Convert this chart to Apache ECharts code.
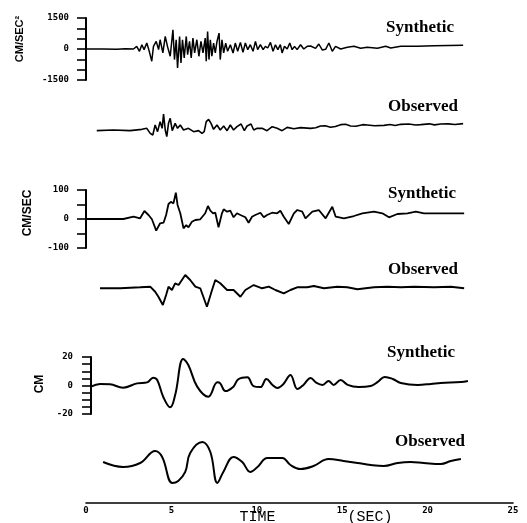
<!DOCTYPE html>
<html><head><meta charset="utf-8">
<script src="https://cdn.jsdelivr.net/npm/echarts@6/dist/echarts.min.js"></script>
<style>html,body{margin:0;padding:0;background:#fff}#c{width:527px;height:523px}</style>
</head><body><div id="c"></div>
<script>
// time (s), value pairs
const accSyn = [[0,0],[1.0,0],[1.8,-16],[2.3,16],[2.78,0],[2.97,128],[3.13,-112],[3.27,208],[3.40,-32],[3.56,288],[3.72,-160],[3.85,-592],[3.95,128],[4.11,368],[4.25,-32],[4.34,448],[4.50,-192],[4.64,608],[4.77,128],[4.93,-352],[5.09,928],[5.18,-512],[5.28,448],[5.36,-912],[5.48,608],[5.56,-672],[5.65,448],[5.75,-432],[5.87,608],[5.95,-272],[6.06,368],[6.16,-432],[6.26,528],[6.36,-192],[6.49,448],[6.61,-352],[6.73,368],[6.85,-192],[6.98,528],[7.04,-592],[7.12,848],[7.20,-512],[7.28,448],[7.37,-352],[7.47,288],[7.57,-192],[7.67,368],[7.79,768],[7.86,-512],[7.96,448],[8.06,-192],[8.18,288],[8.29,-112],[8.45,208],[8.61,-192],[8.74,288],[8.88,-112],[9.04,320],[9.19,-160],[9.33,288],[9.47,-32],[9.62,208],[9.78,-112],[9.92,368],[10.05,-32],[10.21,208],[10.37,-32],[10.50,128],[10.64,48],[10.80,320],[10.95,-112],[11.09,208],[11.23,-32],[11.38,208],[11.48,-192],[11.62,128],[11.78,0],[11.93,288],[12.07,-32],[12.21,128],[12.36,-32],[12.56,208],[12.75,0],[12.95,128],[13.15,145],[13.44,32],[13.63,242],[13.83,-48],[14.03,-16],[14.22,290],[14.42,-113],[14.61,129],[14.91,0],[15.30,80],[15.69,129],[16.08,32],[16.47,80],[17.06,32],[17.55,129],[17.84,48],[18.43,129],[19.41,129],[20.38,161],[22.08,177]];
const accObs = [[0.63,-80],[1.60,-48],[2.58,-80],[3.27,-16],[3.56,32],[3.76,-210],[3.91,-290],[4.05,194],[4.19,-129],[4.34,355],[4.46,32],[4.54,726],[4.64,-48],[4.73,-371],[4.83,274],[4.93,516],[5.05,-80],[5.22,274],[5.36,32],[5.52,194],[5.71,-48],[6.00,32],[6.30,-129],[6.59,-80],[6.79,-210],[6.92,-129],[7.04,355],[7.18,468],[7.32,274],[7.47,-16],[7.67,194],[7.86,-48],[8.06,145],[8.26,-80],[8.45,194],[8.64,-48],[8.84,113],[9.08,242],[9.27,-80],[9.43,145],[9.66,242],[9.82,-48],[10.02,32],[10.31,32],[10.60,-80],[10.90,113],[11.19,32],[11.48,-80],[11.78,80],[12.17,16],[12.56,65],[13.15,32],[13.45,60],[13.73,145],[14.0,160],[14.32,81],[14.6,120],[14.91,210],[15.2,230],[15.49,145],[15.8,130],[16.2,210],[16.47,194],[16.9,160],[17.45,177],[17.8,220],[18.1,170],[18.43,226],[18.9,240],[19.3,190],[19.60,210],[20.1,250],[20.4,200],[20.77,242],[21.2,250],[21.6,220],[22.08,258]];
const velSyn = [[0,0],[0.08,-1],[2.19,0],[2.78,7.9],[3.17,2.4],[3.42,27.6],[3.66,13.8],[3.86,-1],[4.11,-40],[4.34,-14.8],[4.54,-12.8],[4.69,13.8],[4.83,51.7],[4.97,59.3],[5.12,53.8],[5.26,90.7],[5.36,48.3],[5.52,19.7],[5.71,-32.1],[5.87,-20.7],[6.00,-28.6],[6.20,-9.3],[6.40,-3.4],[6.69,-1],[6.98,19.7],[7.14,44.8],[7.28,28.6],[7.44,19.7],[7.57,21.7],[7.76,-28.6],[7.96,19.7],[8.06,33.4],[8.26,25.2],[8.45,28.6],[8.64,5.9],[8.84,19.7],[9.04,13.8],[9.33,5.9],[9.52,-12.8],[9.72,7.9],[9.91,13.8],[10.21,21.7],[10.41,5.9],[10.60,13.8],[10.90,21.7],[11.19,19.7],[11.38,28.6],[11.58,7.9],[11.87,-17.2],[12.17,19.7],[12.37,31.0],[12.66,25.2],[12.85,2.4],[13.25,25.2],[13.63,31.0],[14.03,2.4],[14.42,42.4],[14.62,7.9],[15.10,2.4],[15.69,10.3],[16.18,19.7],[16.86,25.2],[17.35,19.7],[17.74,5.9],[18.23,17.2],[18.82,19.7],[19.31,25.2],[19.79,19.7],[20.97,19.7],[22.14,19.7]];
const velObs = [[0.82,-1],[2.00,-1],[3.17,2.4],[3.76,4.5],[4.05,-12.8],[4.24,-30],[4.50,-58.6],[4.69,-24.1],[4.83,4.5],[5.03,-6.9],[5.22,16.2],[5.42,10.3],[5.81,44.8],[6.10,27.6],[6.40,4.5],[6.69,-1],[7.08,-64.5],[7.38,-6.9],[7.57,27.6],[7.86,16.2],[8.26,-6.9],[8.64,-6.9],[9.04,-30],[9.33,-6.9],[9.82,10.3],[10.31,-1],[10.70,4.5],[11.09,-6.9],[11.58,-18.3],[11.97,-6.9],[12.36,2.4],[12.95,2.4],[13.34,6.9],[13.93,-1],[14.71,4.5],[15.30,2.4],[15.89,-4.5],[16.86,2.4],[17.65,4.5],[18.43,2.4],[19.21,4.5],[20.38,2.4],[21.36,4.5],[22.14,-1]];
const dispSyn = [[0.29,-0.8],[0.82,1.1],[1.41,0.8],[2.17,-1.5],[2.99,1.5],[3.58,2.2],[3.93,5.5],[4.17,3.9],[4.52,-7.9],[4.93,-15.3],[5.22,-6.7],[5.69,18.6],[5.99,14.4],[6.51,-0.8],[7.16,-7.9],[7.69,2.2],[7.86,1.5],[8.16,-3.9],[8.63,-0.8],[8.92,4.4],[9.45,5.8],[9.80,-0.4],[10.21,-1.1],[10.56,4.6],[10.92,0.4],[11.21,-1.8],[11.56,1.1],[11.97,7.4],[12.38,-2.5],[12.73,0.4],[13.15,5.3],[13.50,1.8],[13.85,0.4],[14.20,3.2],[14.50,0.4],[14.91,3.9],[15.32,0.4],[15.96,-1.1],[16.67,-0.4],[17.08,2.5],[17.49,6.0],[17.96,4.6],[18.43,1.8],[19.42,0.4],[20.19,1.1],[20.77,1.8],[21.95,2.5],[22.36,3.2]];
const dispObs = [[1.0,0.7],[2.17,-2.8],[3.17,0],[4.05,8.4],[4.46,4.2],[5.05,-14],[5.40,-12.6],[5.81,-6.3],[6.10,7],[6.81,14.7],[7.28,7.7],[7.69,-14],[8.04,-6.3],[8.63,4.2],[9.15,0.7],[9.62,-6.3],[10.04,-2.8],[10.62,3.5],[11.50,3.5],[11.97,-1.4],[12.56,-4.2],[13.32,-2.1],[14.20,2.8],[15.08,1.4],[15.90,0],[16.67,-1.4],[17.43,-2.1],[18.25,0],[19.01,0.7],[19.78,0],[20.77,-0.7],[21.36,1.4],[21.95,2.8]];
const accLabels = [1500, 0, -1500];
const velLabels = [100, 0, -100];
const dispLabels = [20, 0, -20];
const timeTicks = [0, 5, 10, 15, 20, 25];
const traceNames = ['Synthetic', 'Observed'];
const unitNames = ['CM/SEC²', 'CM/SEC', 'CM'];
const timeTitle = 'TIME        (SEC)';

const chart = echarts.init(document.getElementById('c'), null, {renderer: 'canvas'});
const L = 86, W = 427;
const grids = [
  {top: 18, height: 62}, {top: 98, height: 62},
  {top: 190, height: 58}, {top: 259, height: 58},
  {top: 357, height: 57}, {top: 434.5, height: 57},
  {top: 493, height: 10}
].map(g => Object.assign({left: L, width: W}, g));

const lblFont = {fontFamily: 'DejaVu Sans Mono', fontWeight: 'bold', fontSize: 9, color: '#000'};
function yAx(i, lim, step, labels, show, offset, margin) {
  return {type: 'value', gridIndex: i, min: -lim, max: lim, interval: step, show: show, offset: offset || 0,
    axisLine: {show: true, onZero: false, lineStyle: {color: '#000', width: 2}},
    axisTick: {show: true, length: 9, lineStyle: {color: '#000', width: 1.6}},
    axisLabel: Object.assign({show: true, margin: margin, formatter: v => labels.includes(v) ? String(v) : ''}, lblFont),
    splitLine: {show: false}};
}
const xAxes = [];
for (let i = 0; i < 6; i++) xAxes.push({type: 'value', gridIndex: i, min: 0, max: 25, show: false});
xAxes.push({type: 'value', gridIndex: 6, min: 0, max: 25, interval: 5,
  axisLine: {show: true, onZero: false, lineStyle: {color: '#000', width: 1.6}},
  axisTick: {show: false}, splitLine: {show: false},
  axisLabel: Object.assign({margin: 3, formatter: v => timeTicks.includes(v) ? String(v) : ''}, lblFont)});

const yAxes = [
  yAx(0, 1500, 500, accLabels, true, 0, 17),
  yAx(1, 1500, 500, accLabels, false),
  yAx(2, 100, 50, velLabels, true, 0, 17),
  yAx(3, 100, 50, velLabels, false),
  yAx(4, 20, 5, dispLabels, true, -5, 18),
  yAx(5, 20, 5, dispLabels, false),
  {type: 'value', gridIndex: 6, min: 0, max: 1, show: false}
];

function ser(i, data, w, smooth) {
  return {type: 'line', xAxisIndex: i, yAxisIndex: i, data: data, symbol: 'none', smooth: smooth || false,
    clip: false, lineStyle: {color: '#000', width: w}, silent: true};
}
const series = [
  ser(0, accSyn, 1.5), ser(1, accObs, 1.6),
  ser(2, velSyn, 1.8), ser(3, velObs, 1.9),
  ser(4, dispSyn, 2, 0.4), ser(5, dispObs, 2, 0.4)
];

const serifStyle = {fill: '#000', font: 'bold 17px "Liberation Serif"', align: 'center', verticalAlign: 'middle'};
const labelPos = [[420, 28], [423, 107], [422, 194], [423, 270], [421, 353], [430, 442]];
const graphic = labelPos.map((p, k) => ({type: 'text', x: p[0], y: p[1],
  style: Object.assign({text: traceNames[k % 2]}, serifStyle)}));
const unitPos = [[20, 39, 11], [28, 213, 12], [40, 384, 12]];
unitPos.forEach((p, k) => graphic.push({type: 'text', x: p[0], y: p[1], rotation: Math.PI / 2,
  style: {text: unitNames[k], fill: '#000', font: 'bold ' + p[2] + 'px "Liberation Sans"', align: 'center', verticalAlign: 'middle'}}));
graphic.push({type: 'text', x: 316, y: 517,
  style: {text: timeTitle, fill: '#000', font: '15px "Liberation Mono"', align: 'center', verticalAlign: 'middle'}});

chart.setOption({
  animation: false, backgroundColor: '#fff',
  grid: grids, xAxis: xAxes, yAxis: yAxes, series: series, graphic: graphic
});
</script>
</body></html>
